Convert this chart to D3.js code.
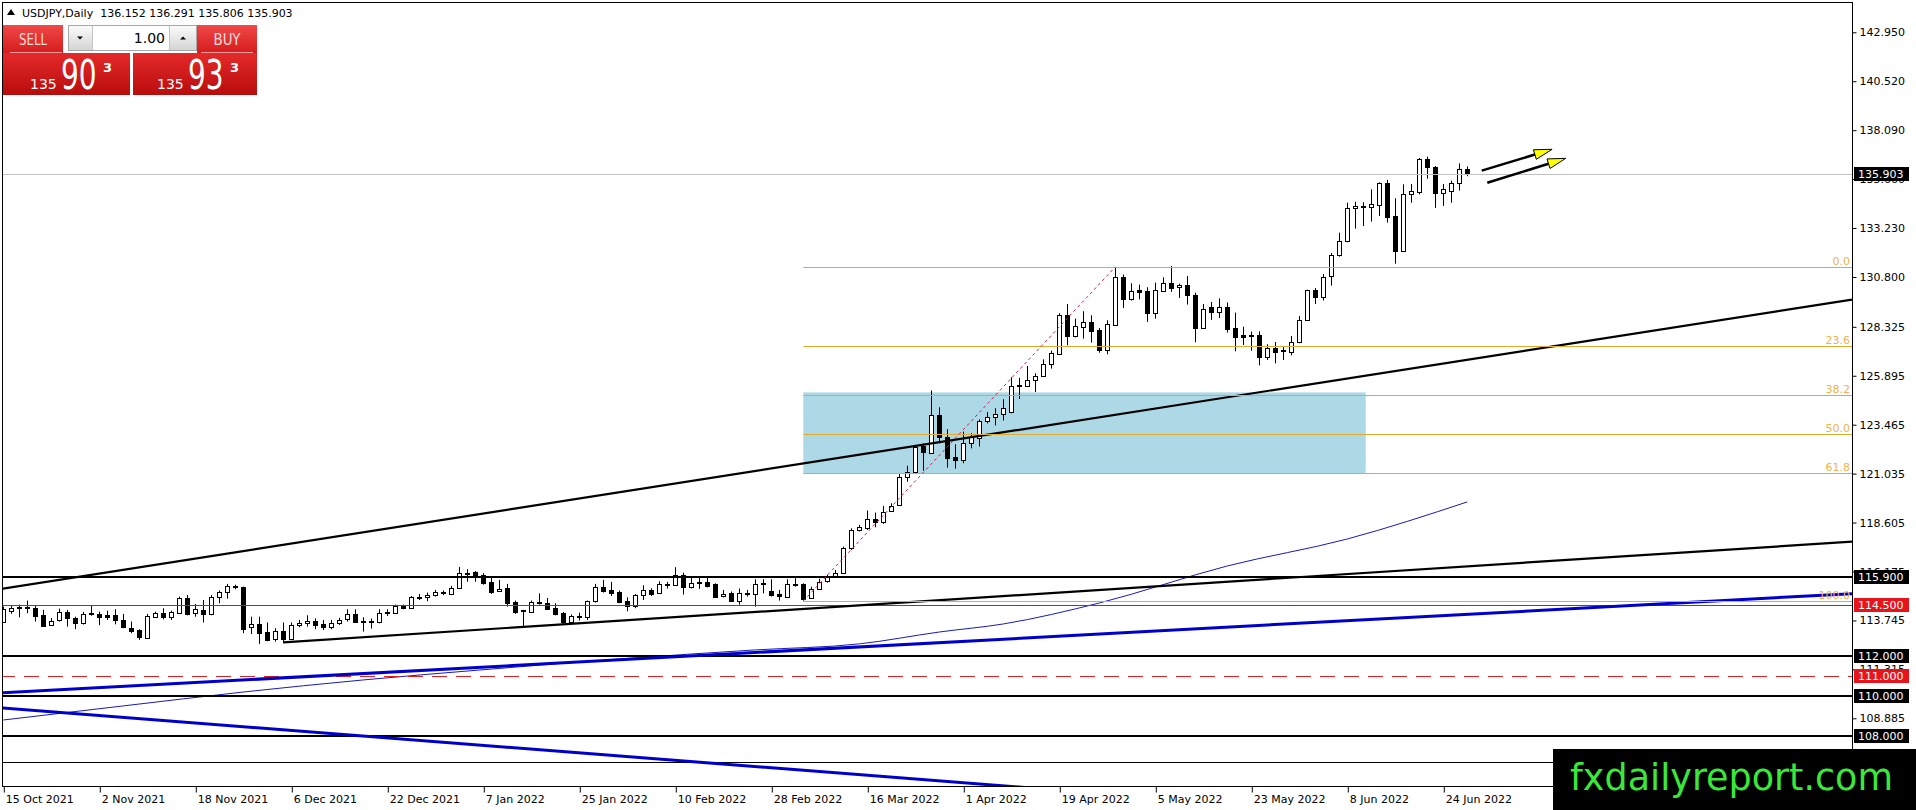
<!DOCTYPE html>
<html>
<head>
<meta charset="utf-8">
<script src="https://cdn.jsdelivr.net/npm/d3@7"></script>
<style>
body { margin: 0; background: #fff; }
svg { display: block; }
text { font-family: "DejaVu Sans", sans-serif; }
</style>
</head>
<body>
<div id="chart"></div>
<script>
// USDJPY daily candles, first bar 15 Oct 2021 (weekdays only)
var symbol = "USDJPY,Daily";
var firstDay = new Date(2021, 9, 15);

var opens = [113.69,114.23,114.43,114.40,114.38,114.02,113.54,113.75,114.18,113.87,113.60,114.13,114.07,114.00,114.00,113.75,113.39,113.27,112.88,113.93,
114.12,113.93,114.13,114.86,114.10,114.27,114.07,114.89,115.14,115.44,115.41,113.44,113.59,113.16,112.81,113.21,112.84,113.52,113.60,113.70,
113.57,113.41,113.60,113.80,114.07,113.74,113.70,113.67,114.17,114.13,114.46,114.37,114.91,114.89,115.03,115.15,115.06,115.34,116.12,116.14,
116.00,115.64,115.19,115.34,114.65,114.25,114.18,114.66,114.60,114.35,114.10,113.67,113.90,113.93,114.70,115.41,115.24,115.14,114.71,114.48,
115.01,115.24,115.09,115.57,115.52,116.02,115.41,115.62,115.66,115.54,114.96,115.09,114.73,115.08,115.06,115.57,115.19,115.08,114.93,115.52,
115.56,114.86,115.33,115.69,115.91,116.12,117.33,118.24,118.32,118.77,118.64,119.17,119.46,120.85,121.13,122.41,122.04,123.93,122.87,121.86,
121.70,122.54,122.79,123.63,123.83,124.00,124.08,125.44,125.39,125.67,125.88,126.48,126.98,128.90,127.89,128.33,128.55,128.17,127.18,128.43,
130.78,129.72,130.14,130.09,129.03,130.12,130.49,130.29,130.39,129.91,128.28,129.29,129.08,129.29,128.25,127.90,127.90,127.90,126.84,127.26,
127.18,127.06,127.56,128.65,130.14,129.82,130.87,131.88,132.57,134.21,134.34,134.29,134.39,135.45,133.83,132.11,134.90,135.02,136.64,136.25,
134.95,135.09,135.47,136.152];

var highs = [114.43,114.50,114.53,114.73,114.50,114.27,113.87,114.33,114.27,113.93,114.17,114.50,114.18,114.23,114.30,114.07,113.69,113.31,114.07,114.18,
114.35,114.23,114.93,115.01,114.56,114.76,115.00,115.23,115.56,115.52,115.42,113.93,113.93,113.64,113.36,113.64,113.64,113.77,114.00,113.85,
113.77,113.77,113.87,114.30,114.30,113.90,113.84,114.30,114.30,114.53,114.53,114.96,115.06,115.13,115.26,115.23,115.46,116.40,116.29,116.20,
116.09,115.92,115.76,115.56,114.73,114.27,114.73,115.09,114.86,114.60,114.17,114.04,114.13,114.73,115.56,115.76,115.66,115.23,114.89,115.06,
115.49,115.34,115.69,115.66,116.39,116.12,115.89,115.87,115.89,115.59,115.26,115.18,115.33,115.26,115.79,115.79,115.79,115.26,115.79,115.84,
115.59,115.42,115.82,116.02,116.25,117.41,118.32,118.49,119.20,119.10,119.43,119.56,121.05,121.43,122.46,122.54,125.16,124.33,123.24,122.49,
123.12,123.04,123.73,124.10,124.28,124.73,125.82,125.79,126.38,126.02,126.71,127.14,129.00,129.46,128.73,129.10,128.90,128.27,128.65,131.30,
130.92,130.49,130.42,130.29,130.52,130.78,131.35,130.47,130.85,130.02,129.46,129.56,129.74,129.53,129.03,128.33,128.09,128.10,127.46,127.57,
127.37,127.87,128.86,130.17,130.25,130.95,131.99,133.00,134.49,134.54,134.51,135.15,135.50,135.62,134.71,135.40,135.42,136.71,136.78,136.31,
135.42,135.58,136.44,136.291];

var lows = [113.64,114.07,113.90,114.10,113.69,113.44,113.47,113.69,113.44,113.31,113.54,113.98,113.51,113.77,113.55,113.36,113.11,112.78,112.83,113.87,
113.80,113.77,114.10,114.00,113.93,113.64,114.00,114.60,114.83,115.29,113.11,113.07,112.58,112.71,112.69,112.62,112.81,113.41,113.44,113.31,
113.27,113.31,113.52,113.69,113.64,113.19,113.34,113.60,113.97,114.07,114.30,114.33,114.76,114.70,114.93,115.00,115.00,115.31,115.67,115.67,
115.52,115.06,115.18,114.43,114.07,113.47,114.17,114.53,114.27,114.00,113.60,113.57,113.74,113.77,114.63,115.13,114.96,114.60,114.20,114.35,
114.76,114.96,115.06,115.33,115.49,115.03,115.33,115.31,115.39,114.89,114.89,114.70,114.53,114.93,114.43,115.09,114.93,114.73,114.89,115.42,
114.73,114.83,115.26,115.62,115.86,116.09,117.25,118.16,118.24,118.37,118.54,119.13,119.43,120.64,121.02,121.18,122.01,122.54,121.33,121.28,
121.55,122.29,122.38,123.53,123.43,123.67,124.03,124.74,125.35,125.09,125.85,126.25,126.94,127.41,127.80,127.74,127.54,127.04,126.96,128.38,
129.26,129.63,129.69,128.57,128.73,130.09,130.06,129.76,129.43,127.56,128.24,128.67,128.76,128.04,127.11,127.42,127.14,126.41,126.68,126.51,
126.68,126.91,127.51,128.62,129.46,129.63,130.37,131.81,132.52,133.20,133.33,133.55,133.83,133.50,131.46,132.08,134.49,134.90,135.68,134.23,
134.33,134.49,135.09,135.806];

var closes = [114.30,114.38,114.37,114.35,113.98,113.49,113.74,114.17,113.85,113.60,114.07,114.05,113.93,113.93,113.75,113.44,113.24,112.91,113.97,114.10,
113.92,114.17,114.86,114.07,114.32,114.07,114.93,115.16,115.47,115.40,113.34,113.57,113.14,112.78,113.22,112.84,113.51,113.64,113.74,113.51,
113.41,113.62,113.75,114.07,113.67,113.72,113.72,114.13,114.13,114.46,114.35,114.89,114.93,115.03,115.16,115.13,115.36,116.12,116.10,115.89,
115.59,115.18,115.29,114.63,114.17,114.21,114.65,114.60,114.33,114.07,113.67,113.97,113.97,114.70,115.41,115.21,115.09,114.68,114.48,115.01,
115.24,115.06,115.57,115.55,116.02,115.42,115.59,115.64,115.46,114.93,115.06,114.73,115.09,115.10,115.54,115.60,115.00,114.96,115.54,115.55,
114.80,115.33,115.67,115.91,116.12,117.33,118.24,118.37,118.77,118.64,119.13,119.45,120.85,121.13,122.38,122.13,123.93,122.87,121.83,121.70,
122.54,122.84,123.65,123.83,123.98,124.28,125.39,125.37,125.67,125.88,126.48,127.01,128.90,127.89,128.37,128.55,128.14,127.18,128.45,130.78,
129.72,130.12,130.07,129.03,130.14,130.49,130.27,130.39,129.89,128.28,129.20,129.08,129.29,128.24,127.84,127.84,127.87,126.84,127.26,127.09,
127.11,127.56,128.65,130.14,129.82,130.80,131.88,132.57,134.21,134.31,134.29,134.42,135.45,133.80,132.11,134.90,135.05,136.64,136.25,134.95,
135.19,135.47,136.15,135.903];

// moving average at a few bars
var maBars   = [0, 15, 30, 45, 61, 77, 94, 107, 117, 125, 137, 153, 168, 183];
var maValues = [108.80, 109.50, 110.19, 110.79, 111.33, 111.83, 112.28, 112.58, 113.17, 113.57, 114.61, 116.45, 117.79, 119.63];

var tickLabels = ["15 Oct 2021", "2 Nov 2021", "18 Nov 2021", "6 Dec 2021", "22 Dec 2021", "7 Jan 2022",
    "25 Jan 2022", "10 Feb 2022", "28 Feb 2022", "16 Mar 2022", "1 Apr 2022", "19 Apr 2022",
    "5 May 2022", "23 May 2022", "8 Jun 2022", "24 Jun 2022"];
var priceTicks = [142.950, 140.520, 138.090, 135.660, 133.230, 130.800, 128.325, 125.895,
    123.465, 121.035, 118.605, 116.175, 113.745, 111.315, 108.885];

// horizontal levels
var blackLevels = [115.900, 112.000, 110.000, 108.000];
var redLevels = [114.500];
var redDashedLevels = [111.000];
var thinLevels = [106.73];
var bid = 135.903;
var ask = 135.933;
var lotSize = "1.00";

// fibonacci retracement, [bar, price]
var fibLow = [100, 114.71];
var fibHigh = [139, 131.30];
var fibRatios = [0, 0.236, 0.382, 0.5, 0.618, 1];

// shaded zone, bars and prices
var zoneBars = [100, 170.3];
var zonePrices = [121.05, 125.07];

// trendlines, [bar, price] pairs
var upperTrend = [[0, 115.33], [183, 126.69]];
var lowerTrend = [[35, 112.66], [183, 116.43]];
var blueRising = [[0, 110.15], [183, 114.05]];
var blueFalling = [[0, 109.39], [127, 105.47]];
var arrows = [[[184.8, 136.08], [193.6, 137.14]], [[185.5, 135.48], [195.3, 136.69]]];

var width = 1916, height = 810;
var plotRight = 1852, plotBottom = 786;

var dates = [];
var day = new Date(firstDay);
while (dates.length < opens.length) {
    if (day.getDay() % 6 !== 0) dates.push(new Date(day));
    day.setDate(day.getDate() + 1);
}
var fmtDate = d3.timeFormat("%-d %b %Y");
var bars = d3.range(opens.length);

var x = d3.scaleLinear().domain([0, opens.length - 1]).range([3.3, 3.3 + 8 * (opens.length - 1)]);
var y = d3.scaleLinear().domain([142.950, 108.885]).range([32.3, 718.3]);

var svg = d3.select("#chart").append("svg")
    .attr("width", width)
    .attr("height", height);

var defs = svg.append("defs");
defs.append("clipPath").attr("id", "plot")
    .append("rect").attr("x", 3).attr("y", 3).attr("width", plotRight - 3).attr("height", plotBottom - 3);

function gradient(id, top, bottom) {
    var gr = defs.append("linearGradient").attr("id", id)
        .attr("x1", 0).attr("y1", 0).attr("x2", 0).attr("y2", 1);
    gr.append("stop").attr("offset", "0%").attr("stop-color", top);
    gr.append("stop").attr("offset", "100%").attr("stop-color", bottom);
}
gradient("btnRed", "#f04848", "#d61c1c");
gradient("bigRed", "#e42a2a", "#b80c0c");
gradient("btnGray", "#fbfbfb", "#d4d4d4");

var plot = svg.append("g").attr("clip-path", "url(#plot)");

// zone
plot.append("rect")
    .attr("x", x(zoneBars[0]))
    .attr("y", y(zonePrices[1]))
    .attr("width", x(zoneBars[1]) - x(zoneBars[0]))
    .attr("height", y(zonePrices[0]) - y(zonePrices[1]))
    .attr("fill", "#add8e6");

// candles
plot.selectAll(".wick").data(bars).join("line")
    .attr("class", "wick")
    .attr("x1", function(i) { return Math.round(x(i)) + 0.5; })
    .attr("x2", function(i) { return Math.round(x(i)) + 0.5; })
    .attr("y1", function(i) { return y(highs[i]); })
    .attr("y2", function(i) { return y(lows[i]); })
    .attr("stroke", "#000")
    .attr("stroke-width", 1);

plot.selectAll(".body").data(bars).join("rect")
    .attr("class", "body")
    .attr("x", function(i) { return Math.round(x(i)) - 1.5; })
    .attr("width", 4)
    .attr("y", function(i) { return Math.round(y(Math.max(opens[i], closes[i]))) + 0.5; })
    .attr("height", function(i) {
        return Math.max(1, Math.round(y(Math.min(opens[i], closes[i]))) - Math.round(y(Math.max(opens[i], closes[i]))));
    })
    .attr("fill", function(i) { return closes[i] < opens[i] ? "#000" : "#fff"; })
    .attr("stroke", "#000")
    .attr("stroke-width", 1);

// moving average
var maLine = d3.line()
    .x(function(d, i) { return x(maBars[i]); })
    .y(function(d) { return y(d); })
    .curve(d3.curveMonotoneX);
plot.append("path")
    .attr("d", maLine(maValues))
    .attr("fill", "none")
    .attr("stroke", "#1a1ab8")
    .attr("stroke-width", 1);

// horizontal levels
function hline(v, color, w, dash) {
    var py = Math.round(y(v)) + (w % 2 ? 0.5 : 0);
    plot.append("line")
        .attr("x1", 0).attr("x2", plotRight)
        .attr("y1", py).attr("y2", py)
        .attr("stroke", color)
        .attr("stroke-width", w)
        .attr("stroke-dasharray", dash || null);
}
thinLevels.forEach(function(v) { hline(v, "#000", 1); });
hline(bid, "#c0c0c0", 1);
redLevels.forEach(function(v) { hline(v, "#d01818", 1); });
redDashedLevels.forEach(function(v) { hline(v, "#e02020", 1, "15,9"); });
blackLevels.forEach(function(v) { hline(v, "#000", 2); });

// trendlines
function trend(pts, color, w, fromStart) {
    var slope = (pts[1][1] - pts[0][1]) / (pts[1][0] - pts[0][0]);
    var b0 = fromStart ? pts[0][0] : x.invert(0);
    var b1 = x.invert(plotRight);
    plot.append("line")
        .attr("x1", x(b0)).attr("y1", y(pts[0][1] + slope * (b0 - pts[0][0])))
        .attr("x2", x(b1)).attr("y2", y(pts[0][1] + slope * (b1 - pts[0][0])))
        .attr("stroke", color)
        .attr("stroke-width", w);
}
trend(blueFalling, "#0000cc", 3, false);
trend(blueRising, "#0000cc", 3, false);
trend(lowerTrend, "#000", 2.2, true);
trend(upperTrend, "#000", 2.2, false);

// fibonacci
var fibRange = fibHigh[1] - fibLow[1];
fibRatios.forEach(function(r) {
    var v = fibHigh[1] - r * fibRange;
    var py = Math.round(y(v)) + 0.5;
    plot.append("line")
        .attr("x1", x(fibLow[0])).attr("x2", plotRight)
        .attr("y1", py).attr("y2", py)
        .attr("stroke", "#e4aa2a")
        .attr("stroke-width", 1);
    plot.append("text")
        .attr("x", plotRight - 2)
        .attr("y", py - 3)
        .attr("text-anchor", "end")
        .attr("font-size", 11)
        .attr("fill", "#f2b24c")
        .text((r * 100).toFixed(1));
});
plot.append("line")
    .attr("x1", x(fibLow[0])).attr("y1", y(fibLow[1]))
    .attr("x2", x(fibHigh[0])).attr("y2", y(fibHigh[1]))
    .attr("stroke", "#d0204a")
    .attr("stroke-width", 1)
    .attr("stroke-dasharray", "3,3");

// arrows
arrows.forEach(function(a) {
    var x0 = x(a[0][0]), y0 = y(a[0][1]), x1 = x(a[1][0]), y1 = y(a[1][1]);
    var len = Math.hypot(x1 - x0, y1 - y0);
    var ux = (x1 - x0) / len, uy = (y1 - y0) / len;
    var bx = x1 - 18 * ux, by = y1 - 18 * uy;
    plot.append("line")
        .attr("x1", x0).attr("y1", y0).attr("x2", bx).attr("y2", by)
        .attr("stroke", "#000").attr("stroke-width", 2.5);
    plot.append("polygon")
        .attr("points", [[x1, y1], [bx - 5 * uy, by + 5 * ux], [bx + 5 * uy, by - 5 * ux]].join(" "))
        .attr("fill", "#ffff00")
        .attr("stroke", "#000")
        .attr("stroke-width", 1);
});

// frame
svg.append("rect")
    .attr("x", 2.5).attr("y", 2.5)
    .attr("width", plotRight - 2).attr("height", plotBottom - 2)
    .attr("fill", "none")
    .attr("stroke", "#000")
    .attr("stroke-width", 1);

// price axis
svg.append("g")
    .attr("transform", "translate(" + (plotRight + 0.5) + ",0)")
    .call(d3.axisRight(y).tickValues(priceTicks).tickSize(4).tickPadding(3).tickFormat(d3.format(".3f")))
    .call(function(g) { g.select(".domain").remove(); })
    .call(function(g) {
        g.selectAll("text").attr("font-family", "DejaVu Sans").attr("font-size", 11).attr("fill", "#000");
        g.selectAll("line").attr("stroke", "#000");
    });

function priceTag(v, color) {
    var py = Math.round(y(v));
    svg.append("rect")
        .attr("x", plotRight + 2).attr("y", py - 7)
        .attr("width", 55).attr("height", 14)
        .attr("fill", color);
    svg.append("text")
        .attr("x", plotRight + 6).attr("y", py + 4)
        .attr("font-size", 11)
        .attr("fill", "#fff")
        .text(d3.format(".3f")(v));
}
blackLevels.forEach(function(v) { priceTag(v, "#000"); });
redLevels.forEach(function(v) { priceTag(v, "#e8141c"); });
redDashedLevels.forEach(function(v) { priceTag(v, "#e8141c"); });
priceTag(bid, "#000");

// time axis
var tickBars = tickLabels.map(function(l) {
    return dates.findIndex(function(d) { return fmtDate(d) === l; });
});
svg.append("g")
    .attr("transform", "translate(0," + (plotBottom + 0.5) + ")")
    .call(d3.axisBottom(x).tickValues(tickBars).tickSize(6)
        .tickFormat(function(i) { return fmtDate(dates[i]); }))
    .call(function(g) { g.select(".domain").remove(); })
    .call(function(g) {
        g.selectAll("line").attr("stroke", "#000").attr("transform", "translate(0.5,0)");
        g.selectAll("text")
            .attr("font-family", "DejaVu Sans").attr("font-size", 11).attr("fill", "#000")
            .attr("text-anchor", "start").attr("x", 2).attr("y", 9);
    });

// header
var last = opens.length - 1;
svg.append("polygon").attr("points", "7,15 11,9 15,15").attr("fill", "#000");
svg.append("text")
    .attr("x", 22).attr("y", 17)
    .attr("font-size", 11)
    .attr("fill", "#000")
    .attr("xml:space", "preserve")
    .text(symbol + "  " + [opens[last], highs[last], lows[last], closes[last]].map(d3.format(".3f")).join(" "));

// one-click trading panel
var panel = svg.append("g");
panel.append("rect").attr("x", 3).attr("y", 53).attr("width", 127).attr("height", 42).attr("fill", "url(#bigRed)");
panel.append("rect").attr("x", 133).attr("y", 53).attr("width", 124).attr("height", 42).attr("fill", "url(#bigRed)");
panel.append("rect").attr("x", 3).attr("y", 25).attr("width", 60).attr("height", 28).attr("fill", "url(#btnRed)");
panel.append("rect").attr("x", 197).attr("y", 25).attr("width", 60).attr("height", 28).attr("fill", "url(#btnRed)");
panel.append("line").attr("x1", 10).attr("x2", 62).attr("y1", 52.5).attr("y2", 52.5).attr("stroke", "#f49a9a");
panel.append("line").attr("x1", 201).attr("x2", 253).attr("y1", 52.5).attr("y2", 52.5).attr("stroke", "#f49a9a");
panel.append("rect").attr("x", 68.5).attr("y", 25.5).attr("width", 128).attr("height", 25)
    .attr("fill", "#fff").attr("stroke", "#a8a8a8");
panel.append("rect").attr("x", 69).attr("y", 26).attr("width", 23).attr("height", 24).attr("fill", "url(#btnGray)");
panel.append("rect").attr("x", 170).attr("y", 26).attr("width", 26).attr("height", 24).attr("fill", "url(#btnGray)");
panel.append("line").attr("x1", 92.5).attr("x2", 92.5).attr("y1", 26).attr("y2", 50).attr("stroke", "#c4c4c4");
panel.append("line").attr("x1", 169.5).attr("x2", 169.5).attr("y1", 26).attr("y2", 50).attr("stroke", "#c4c4c4");
panel.append("polygon").attr("points", "77,36.5 83,36.5 80,39.5").attr("fill", "#000");
panel.append("polygon").attr("points", "180,39.5 186,39.5 183,36.5").attr("fill", "#000");
panel.append("text").attr("x", 165).attr("y", 43).attr("text-anchor", "end")
    .attr("font-family", "Roboto").attr("font-size", 14).attr("fill", "#000").text(lotSize);
panel.append("text").attr("x", 33).attr("y", 45).attr("text-anchor", "middle")
    .attr("font-family", "Roboto").attr("font-size", 16).attr("fill", "#ffdede")
    .attr("textLength", 28).attr("lengthAdjust", "spacingAndGlyphs").text("SELL");
panel.append("text").attr("x", 227).attr("y", 45).attr("text-anchor", "middle")
    .attr("font-family", "Roboto").attr("font-size", 16).attr("fill", "#ffdede")
    .attr("textLength", 27).attr("lengthAdjust", "spacingAndGlyphs").text("BUY");

function quote(v, x0) {
    var s = d3.format(".3f")(v);
    var big = s.split(".")[0], pips = s.split(".")[1].slice(0, 2), point = s.slice(-1);
    panel.append("text").attr("x", x0).attr("y", 89)
        .attr("font-family", "Roboto").attr("font-size", 14).attr("fill", "#fff").text(big);
    panel.append("text")
        .attr("transform", "translate(" + (x0 + 31) + ",89) scale(0.7,1)")
        .attr("font-family", "Roboto").attr("font-size", 40).attr("fill", "#fff")
        .text(pips);
    panel.append("text").attr("x", x0 + 73).attr("y", 72)
        .attr("font-family", "Roboto").attr("font-weight", "bold").attr("font-size", 13).attr("fill", "#fff").text(point);
}
quote(bid, 30);
quote(ask, 157);

// logo
svg.append("rect").attr("x", 1553).attr("y", 749).attr("width", 363).attr("height", 61).attr("fill", "#000");
svg.append("text")
    .attr("x", 1570).attr("y", 790)
    .attr("font-family", "Liberation Sans, Arial, sans-serif")
    .attr("font-size", 38)
    .attr("fill", "#3ae83a")
    .attr("textLength", 323)
    .attr("lengthAdjust", "spacingAndGlyphs")
    .text("fxdailyreport.com");
</script>
</body>
</html>
